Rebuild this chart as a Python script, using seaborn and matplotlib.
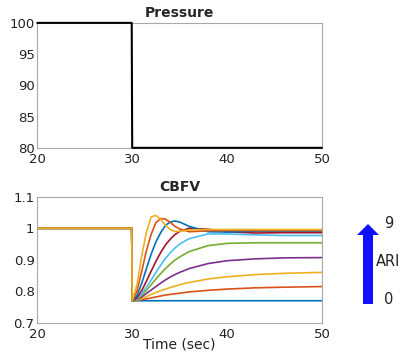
import numpy as np
import pandas as pd
import matplotlib
matplotlib.use("Agg")
import matplotlib.pyplot as plt
import seaborn as sns
from matplotlib.patches import FancyArrow

# pressure step
p_time = [20, 29.95, 30, 50]
p_value = [100, 100, 80, 80]

# CBFV responses, one list per ARI (0..9)
pre_time = [20, 29.95]
step_time = [30, 30.5, 31, 31.5, 32, 32.5, 33, 33.5, 34, 34.5, 35, 36, 38, 40, 43, 46, 50]

ari_0 = [0.770] * 17
ari_1 = [0.770, 0.771, 0.774, 0.776, 0.779, 0.782, 0.785, 0.788, 0.790, 0.792, 0.794, 0.798, 0.803, 0.807, 0.811, 0.813, 0.815]
ari_2 = [0.770, 0.772, 0.777, 0.783, 0.790, 0.796, 0.802, 0.807, 0.812, 0.816, 0.821, 0.828, 0.839, 0.846, 0.853, 0.857, 0.860]
ari_3 = [0.770, 0.774, 0.782, 0.793, 0.804, 0.815, 0.826, 0.836, 0.845, 0.853, 0.860, 0.872, 0.888, 0.897, 0.903, 0.906, 0.907]
ari_4 = [0.770, 0.775, 0.787, 0.803, 0.821, 0.839, 0.856, 0.872, 0.886, 0.899, 0.909, 0.926, 0.945, 0.952, 0.954, 0.954, 0.954]
ari_5 = [0.770, 0.776, 0.792, 0.813, 0.836, 0.860, 0.883, 0.904, 0.922, 0.937, 0.950, 0.967, 0.982, 0.982, 0.979, 0.977, 0.977]
ari_6 = [0.770, 0.779, 0.802, 0.832, 0.864, 0.895, 0.923, 0.947, 0.965, 0.980, 0.990, 1.000, 0.997, 0.989, 0.985, 0.986, 0.986]
ari_7 = [0.770, 0.786, 0.825, 0.872, 0.918, 0.957, 0.986, 1.009, 1.020, 1.023, 1.020, 1.006, 0.989, 0.988, 0.991, 0.991, 0.991]
ari_8 = [0.770, 0.800, 0.863, 0.929, 0.981, 1.018, 1.031, 1.029, 1.019, 1.006, 0.998, 0.989, 0.992, 0.993, 0.993, 0.993, 0.993]
ari_9 = [0.770, 0.820, 0.912, 0.988, 1.036, 1.041, 1.028, 1.010, 0.996, 0.990, 0.990, 0.995, 0.996, 0.996, 0.996, 0.996, 0.996]
cbfv = [ari_0, ari_1, ari_2, ari_3, ari_4, ari_5, ari_6, ari_7, ari_8, ari_9]

matlab_colors = ["#0072BD", "#D95319", "#EDB120", "#7E2F8E", "#77AC30",
                 "#4DBEEE", "#A2142F", "#0072BD", "#D95319", "#EDB120"]

rows = []
for k, vals in enumerate(cbfv):
    for t in pre_time:
        rows.append((t, 1.0, k))
    for t, v in zip(step_time, vals):
        rows.append((t, v, k))
df = pd.DataFrame(rows, columns=["time", "cbfv", "ARI"])
pdf = pd.DataFrame({"time": p_time, "pressure": p_value})

sns.set_style("white")
plt.rcParams["font.family"] = ["DejaVu Sans"]
edge = "#a8a8a8"

fig = plt.figure(figsize=(4.01, 3.52), dpi=100)
ax1 = fig.add_axes([0.093, 0.580, 0.710, 0.355])
ax2 = fig.add_axes([0.093, 0.083, 0.710, 0.358])

sns.lineplot(data=pdf, x="time", y="pressure", color="black", lw=1.5,
             estimator=None, ax=ax1, clip_on=False, zorder=5)
ax1.set_xlim(20, 50)
ax1.set_ylim(80, 100)
ax1.set_yticks([80, 85, 90, 95, 100])
ax1.set_title("Pressure", fontsize=10, fontweight="bold", pad=4)

sns.lineplot(data=df, x="time", y="cbfv", hue="ARI", palette=matlab_colors,
             lw=1.2, estimator=None, legend=False, ax=ax2)
ax2.set_xlim(20, 50)
ax2.set_ylim(0.7, 1.1)
ax2.set_yticks([0.7, 0.8, 0.9, 1.0, 1.1])
ax2.set_yticklabels(["0.7", "0.8", "0.9", "1", "1.1"])
ax2.set_title("CBFV", fontsize=10, fontweight="bold", pad=4)

for ax in (ax1, ax2):
    ax.set_xticks([20, 30, 40, 50])
    ax.set_xlabel("")
    ax.set_ylabel("")
    ax.tick_params(direction="in", length=2.5, width=0.6, color=edge,
                   labelsize=9.5, labelcolor="#222222")
    ax.tick_params(axis="y", pad=2)
    ax.tick_params(axis="x", pad=3.5)
    for s in ax.spines.values():
        s.set_color(edge)
        s.set_linewidth(0.8)
ax2.set_xlabel("Time (sec)", fontsize=10, color="#222222", labelpad=-2)

# ARI arrow overlay in pixel units
ov = fig.add_axes([0, 0, 1, 1])
ov.set_xlim(0, 401)
ov.set_ylim(352, 0)
ov.axis("off")
ov.add_patch(FancyArrow(368, 304, 0, -80, width=10, head_width=22,
                        head_length=11, length_includes_head=True,
                        color="#1010ff", lw=0))
ov.text(384, 224, "9", fontsize=10.5, va="center", ha="left", color="#222222")
ov.text(376, 262, "ARI", fontsize=10.5, va="center", ha="left", color="#222222")
ov.text(384, 300, "0", fontsize=10.5, va="center", ha="left", color="#222222")

fig.savefig("out.png", dpi=100)
